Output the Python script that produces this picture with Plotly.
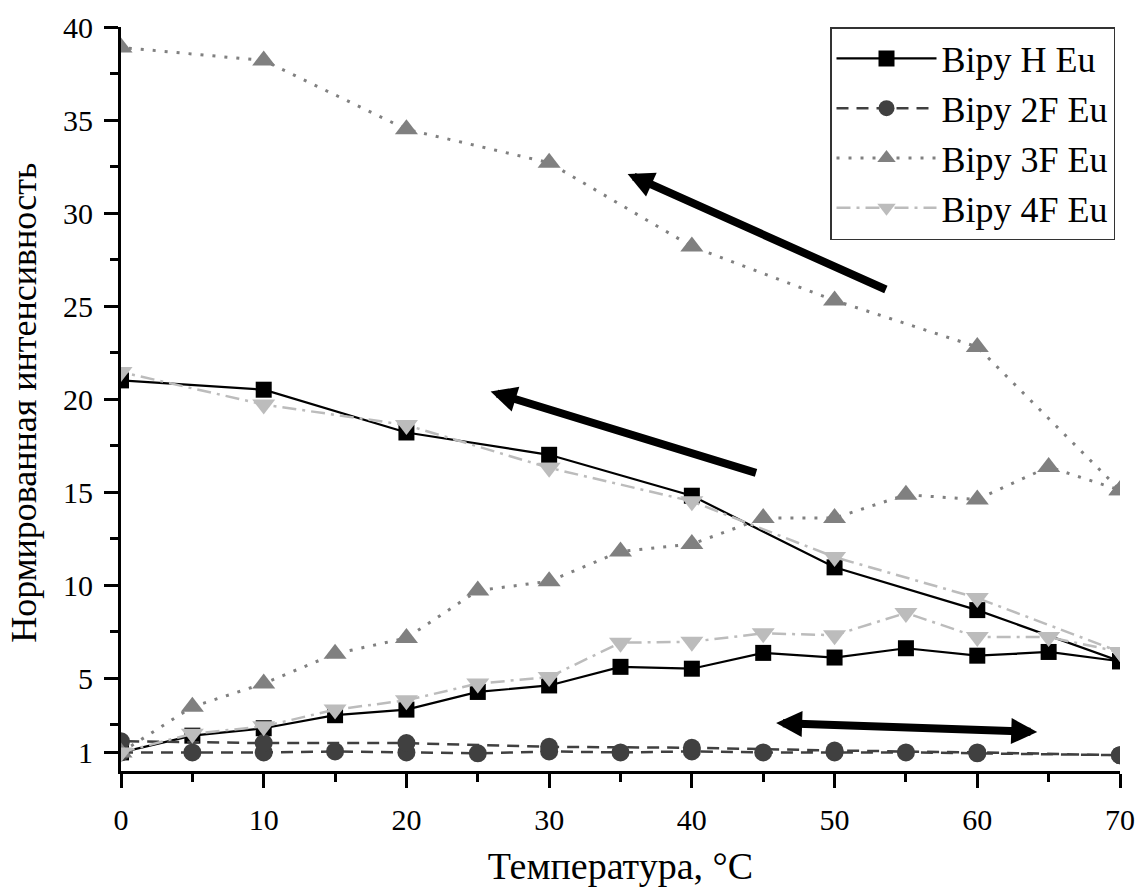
import plotly.graph_objects as go

# Temperature steps: heating in 5 °C steps, then cooling back in 10 °C steps
temps_heat = [0, 5, 10, 15, 20, 25, 30, 35, 40, 45, 50, 55, 60, 65, 70]
temps_cool = [70, 60, 50, 40, 30, 20, 10, 0]

# Normalized emission intensity, heating branch
h_heat = [1.0, 1.9, 2.3, 3.0, 3.3, 4.25, 4.6, 5.6, 5.5, 6.35, 6.1, 6.6, 6.2, 6.4, 5.9]
f2_heat = [1.0, 1.0, 1.0, 1.05, 1.0, 0.95, 1.05, 1.0, 1.05, 1.0, 1.0, 1.0, 0.95, None, 0.85]
f3_heat = [1.0, 3.45, 4.7, 6.3, 7.15, 9.7, 10.2, 11.8, 12.2, 13.6, 13.6, 14.85, 14.6, 16.35, 15.1]
f4_heat = [1.0, 2.0, 2.4, 3.3, 3.8, 4.7, 5.05, 6.9, 6.95, 7.4, 7.3, 8.5, 7.2, 7.2, 6.4]

# Normalized emission intensity, cooling branch
h_cool = [5.9, 8.65, 10.95, 14.8, 17.0, 18.2, 20.5, 21.0]
f2_cool = [0.85, 1.0, 1.1, 1.25, 1.3, 1.5, 1.5, 1.6]
f3_cool = [15.1, 22.8, 25.3, 28.2, 32.7, 34.5, 38.2, 38.9]
f4_cool = [6.4, 9.3, 11.5, 14.5, 16.3, 18.6, 19.7, 21.45]

series_names = ["Bipy H Eu", "Bipy 2F Eu", "Bipy 3F Eu", "Bipy 4F Eu"]

y_ticks = [1, 5, 10, 15, 20, 25, 30, 35, 40]
y_minor = [2.5, 7.5, 12.5, 17.5, 22.5, 27.5, 32.5, 37.5]
x_ticks = [0, 10, 20, 30, 40, 50, 60, 70]
x_minor = [5, 15, 25, 35, 45, 55, 65]

FONT = "Liberation Serif, 'Times New Roman', Times, serif"

styles = [
    dict(color="#000000", symbol="square", size=16, dash="solid", width=2.2),
    dict(color="#404040", symbol="circle", size=18, dash="12px,8px", width=2.5),
    dict(color="#808080", symbol="triangle-up", size=20, dash="3px,9px", width=3),
    dict(color="#bcbcbc", symbol="triangle-down", size=20, dash="14px,6px,3px,6px", width=2.5),
]

heat = [h_heat, f2_heat, f3_heat, f4_heat]
cool = [h_cool, f2_cool, f3_cool, f4_cool]

fig = go.Figure()
for name, st, yh, yc in zip(series_names, styles, heat, cool):
    fig.add_trace(go.Scatter(
        x=temps_heat + temps_cool,
        y=yh + yc,
        name=name,
        mode="lines+markers",
        connectgaps=True,
        line=dict(color=st["color"], width=st["width"], dash=st["dash"]),
        marker=dict(symbol=st["symbol"], size=st["size"], color=st["color"],
                    line=dict(width=0)),
    ))

axis_common = dict(
    showline=True, linecolor="black", linewidth=3,
    ticks="outside", ticklen=14, tickwidth=2.5, tickcolor="black",
    showgrid=False, zeroline=False, automargin=False,
    tickfont=dict(family=FONT, size=30, color="black"),
)

fig.update_layout(
    width=1139, height=887,
    margin=dict(l=121, r=19, t=27, b=116),
    paper_bgcolor="white", plot_bgcolor="white",
    font=dict(family=FONT, color="black"),
    xaxis=dict(
        range=[0, 70], tickmode="array", tickvals=x_ticks,
        ticklabelstandoff=6,
        minor=dict(tickmode="array", tickvals=x_minor, ticks="outside",
                   ticklen=8, tickwidth=2.5, tickcolor="black", showgrid=False),
        title=dict(text="Температура, °C", font=dict(family=FONT, size=38),
                   standoff=30),
        **axis_common,
    ),
    yaxis=dict(
        range=[0, 40], tickmode="array", tickvals=y_ticks,
        ticktext=[str(v) for v in y_ticks],
        ticklabelstandoff=5,
        minor=dict(tickmode="array", tickvals=y_minor, ticks="outside",
                   ticklen=8, tickwidth=2.5, tickcolor="black", showgrid=False),
        **axis_common,
    ),
    # Overlay axes carrying only the interior grid lines
    xaxis2=dict(overlaying="x", anchor="y", range=[0, 70], tickmode="array",
                tickvals=x_ticks[1:-1], showgrid=True, gridcolor="#a6a6a6",
                gridwidth=1, showticklabels=False, ticks="", showline=False,
                zeroline=False, automargin=False),
    yaxis2=dict(overlaying="y", anchor="x", range=[0, 40], tickmode="array",
                tickvals=y_ticks[:-1], showgrid=True, gridcolor="#a6a6a6",
                gridwidth=1, showticklabels=False, ticks="", showline=False,
                zeroline=False, automargin=False),
    legend=dict(
        x=0.995, y=1.0, xanchor="right", yanchor="top",
        bgcolor="white", bordercolor="#333333", borderwidth=1.5,
        font=dict(family=FONT, size=36, color="black"),
        itemwidth=100, tracegroupgap=0,
    ),
    showlegend=True,
)

# Vertical axis title placed in the left margin
fig.add_annotation(
    text="Нормированная интенсивность", textangle=-90,
    xref="paper", yref="paper", x=-0.097, y=0.495,
    xanchor="center", yanchor="middle", showarrow=False,
    font=dict(family=FONT, size=36, color="black"),
)

# Direction arrows: heating/cooling trends
arrow_common = dict(
    xref="x", yref="y", axref="x", ayref="y", text="", showarrow=True,
    arrowhead=2, arrowsize=0.65, arrowwidth=8, arrowcolor="black", standoff=0,
)
fig.add_annotation(x=35.5, y=32.1, ax=53.7, ay=25.85, **arrow_common)
fig.add_annotation(x=25.9, y=20.4, ax=44.6, ay=16.0, **arrow_common)
fig.add_annotation(x=64.2, y=2.1, ax=45.8, ay=2.58, arrowside="end+start",
                   startarrowhead=2, startarrowsize=0.65, startstandoff=0,
                   **arrow_common)

fig.write_html("out.html")
